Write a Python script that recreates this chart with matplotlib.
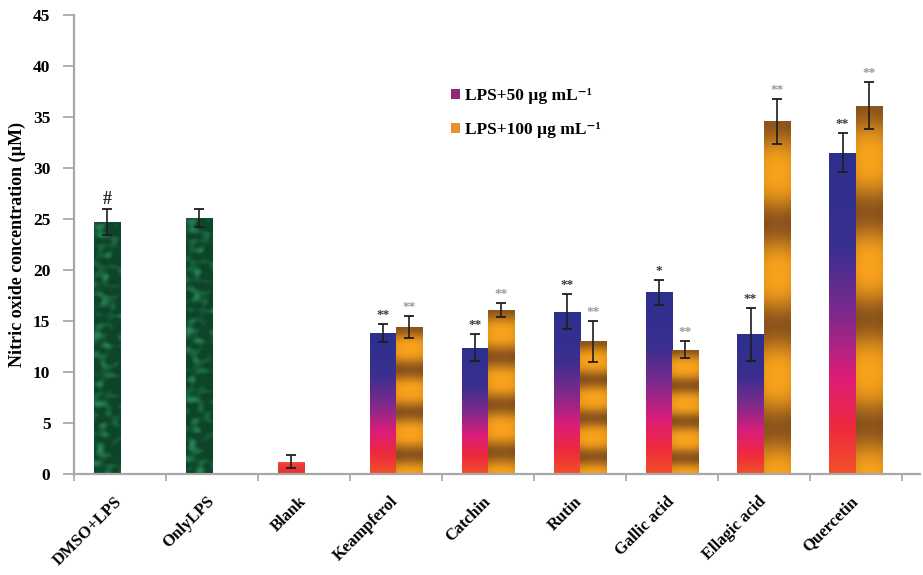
import numpy as np
import matplotlib
matplotlib.use("Agg")
import matplotlib.pyplot as plt
from matplotlib.patches import Patch

# ---- data ----
categories = ["DMSO+LPS", "OnlyLPS", "Blank", "Keampferol", "Catchin",
              "Rutin", "Gallic acid", "Ellagic acid", "Quercetin"]

# control groups (single bar each)
control_idx = [0, 1, 2]
control_vals = [24.7, 25.1, 1.2]
control_err = [1.3, 0.85, 0.65]
control_marks = ["#", "", ""]

# treated groups (two doses each)
treat_idx = [3, 4, 5, 6, 7, 8]
lps50_vals = [13.8, 12.4, 15.9, 17.8, 13.7, 31.5]
lps50_err = [0.9, 1.3, 1.7, 1.2, 2.6, 1.9]
lps50_marks = ["**", "**", "**", "*", "**", "**"]
lps100_vals = [14.4, 16.1, 13.0, 12.2, 34.6, 36.1]
lps100_err = [1.05, 0.7, 2.0, 0.85, 2.2, 2.3]
lps100_marks = ["**", "**", "**", "**", "**", "**"]

series_labels = ["LPS+50 \u00b5g mL\u207b\u00b9", "LPS+100 \u00b5g mL\u207b\u00b9"]
yticks = [0, 5, 10, 15, 20, 25, 30, 35, 40, 45]
ylabel = "Nitric oxide concentration (\u00b5M)"

SERIF = ["Liberation Serif", "DejaVu Serif"]
plt.rcParams["font.family"] = SERIF
plt.rcParams["font.weight"] = "bold"

fig = plt.figure(figsize=(9.23, 5.75), dpi=100)
ax = fig.add_axes([74 / 923, 101 / 575, 846 / 923, 459 / 575])

W = 0.285
AXIS_GRAY = "#a8a8a8"


def hexrgb(h):
    h = h.lstrip("#")
    return np.array([int(h[i:i + 2], 16) / 255 for i in (0, 2, 4)])


def ramp(stops, t):
    pos = np.array([s[0] for s in stops])
    cols = np.array([hexrgb(s[1]) for s in stops])
    return np.stack([np.interp(t, pos, cols[:, k]) for k in range(3)], axis=-1)


def purple_fill(n=200):
    t = np.linspace(0, 1, n)  # 0 = top, 1 = bottom
    stops = [(0.0, "#2c2f8e"), (0.3, "#3a2f8f"), (0.5, "#7c2a8c"),
             (0.7, "#dc1d79"), (0.86, "#ee2a3c"), (1.0, "#f2502a")]
    c = ramp(stops, t)
    return np.repeat(c[:, None, :], 4, axis=1)


def amber_fill(n=300):
    t = np.linspace(0, 1, n)
    w = ((1 + np.cos(2 * np.pi * t / 0.29)) / 2) ** 1.5
    bright = hexrgb("#f9a21c")
    dark = hexrgb("#8f561c")
    c = bright[None, :] * (1 - w[:, None]) + dark[None, :] * w[:, None]
    x = np.linspace(-1, 1, 24)
    shade = 1 - 0.05 * x ** 2
    return np.clip(c[:, None, :] * shade[None, :, None], 0, 1)


def green_fill(h_units):
    # mottled marble-like texture built from overlapping waves
    ny = max(int(h_units * 12), 12)
    nx = 30
    yy, xx = np.mgrid[0:ny, 0:nx].astype(float)
    m = np.zeros_like(xx)
    for k in range(14):
        ang = k * 2.399963
        f = 0.18 + 0.09 * ((k * 7) % 5)
        ph = (k * 1.618) % (2 * np.pi)
        m += np.sin(f * (xx * np.cos(ang) + yy * np.sin(ang)) + ph) / (1 + 0.15 * k)
    m = (m - m.min()) / (m.max() - m.min())
    m = np.clip((m - 0.45) / 0.55, 0, 1) ** 1.2
    base = hexrgb("#0d4529")
    light = hexrgb("#2a8455")
    return base * (1 - m[..., None]) + light * m[..., None]


def fill_bar(rect, img):
    x0 = rect.get_x()
    x1 = x0 + rect.get_width()
    h = rect.get_height()
    im = ax.imshow(img, extent=[x0, x1, 0, h], aspect="auto",
                   interpolation="bilinear", zorder=2, origin="upper")
    im.set_clip_path(rect)


# control bars
ctrl_x = np.array(control_idx) - W / 2
ctrl_bars = ax.bar(ctrl_x, control_vals, width=W, facecolor="none",
                   edgecolor="none", zorder=3)
for i, r in enumerate(ctrl_bars):
    if categories[control_idx[i]] == "Blank":
        img = ramp([(0, "#f25a4a"), (0.3, "#ee3a36"), (1, "#e8302c")],
                   np.linspace(0, 1, 20))[:, None, :].repeat(4, axis=1)
    else:
        img = green_fill(control_vals[i])
    fill_bar(r, img)

# treated bars
tx = np.array(treat_idx, dtype=float)
b50 = ax.bar(tx - W / 2, lps50_vals, width=W, facecolor="none",
             edgecolor="none", zorder=3)
b100 = ax.bar(tx + W / 2, lps100_vals, width=W, facecolor="none",
              edgecolor="none", zorder=3)
for r in b50:
    fill_bar(r, purple_fill())
for r in b100:
    fill_bar(r, amber_fill())

# error bars
ekw = dict(fmt="none", ecolor="#1e1e1e", elinewidth=1.2, capsize=3.5,
           capthick=1.3, zorder=4)
ax.errorbar(ctrl_x, control_vals, yerr=control_err, **ekw)
ax.errorbar(tx - W / 2, lps50_vals, yerr=lps50_err, **ekw)
ax.errorbar(tx + W / 2, lps100_vals, yerr=lps100_err, **ekw)

# significance marks
for x, v, e, m in zip(ctrl_x, control_vals, control_err, control_marks):
    if m:
        ax.text(x, v + e + 0.1, m, ha="center", va="bottom", fontsize=13,
                color="#222222", zorder=5)
for x, v, e, m in zip(tx - W / 2, lps50_vals, lps50_err, lps50_marks):
    ax.text(x, v + e + 0.3, m, ha="center", va="bottom", fontsize=9.5,
            color="#3a3a3a", zorder=5)
for x, v, e, m in zip(tx + W / 2, lps100_vals, lps100_err, lps100_marks):
    ax.text(x, v + e + 0.3, m, ha="center", va="bottom", fontsize=9.5,
            color="#9a9a9a", zorder=5)

# axes styling
ax.set_xlim(-0.5, 8.7)
ax.set_ylim(0, 45)
for s in ("top", "right"):
    ax.spines[s].set_visible(False)
for s in ("left", "bottom"):
    ax.spines[s].set_color(AXIS_GRAY)
    ax.spines[s].set_linewidth(1.6)

ax.set_yticks(yticks)
ax.set_yticklabels([str(v) for v in yticks], fontsize=12.5, fontweight="bold")
ax.tick_params(axis="y", direction="out", length=8, width=1.3,
               color=AXIS_GRAY, pad=9)

ax.set_xticks(range(len(categories)))
ax.set_xticklabels(categories, fontsize=12, fontweight="bold",
                   rotation=45, ha="right", va="center",
                   rotation_mode="anchor")
ax.tick_params(axis="x", which="major", length=0, pad=18)
ax.set_xticks(np.arange(len(categories) + 1) - 0.5, minor=True)
ax.tick_params(axis="x", which="minor", direction="out", length=5,
               width=1.2, color=AXIS_GRAY)

ax.set_ylabel(ylabel, fontsize=13, fontweight="bold", labelpad=5)

# legend
handles = [Patch(facecolor="#8e2a78", edgecolor="none"),
           Patch(facecolor="#e8902a", edgecolor="none")]
leg = ax.legend(handles, series_labels, loc="upper left",
                bbox_to_anchor=(0.427, 0.875), frameon=False,
                prop={"family": SERIF, "weight": "bold", "size": 12.5},
                handlelength=0.55, handleheight=0.55, handletextpad=0.25,
                labelspacing=1.05)

fig.savefig("out.png", dpi=100, facecolor="white")
